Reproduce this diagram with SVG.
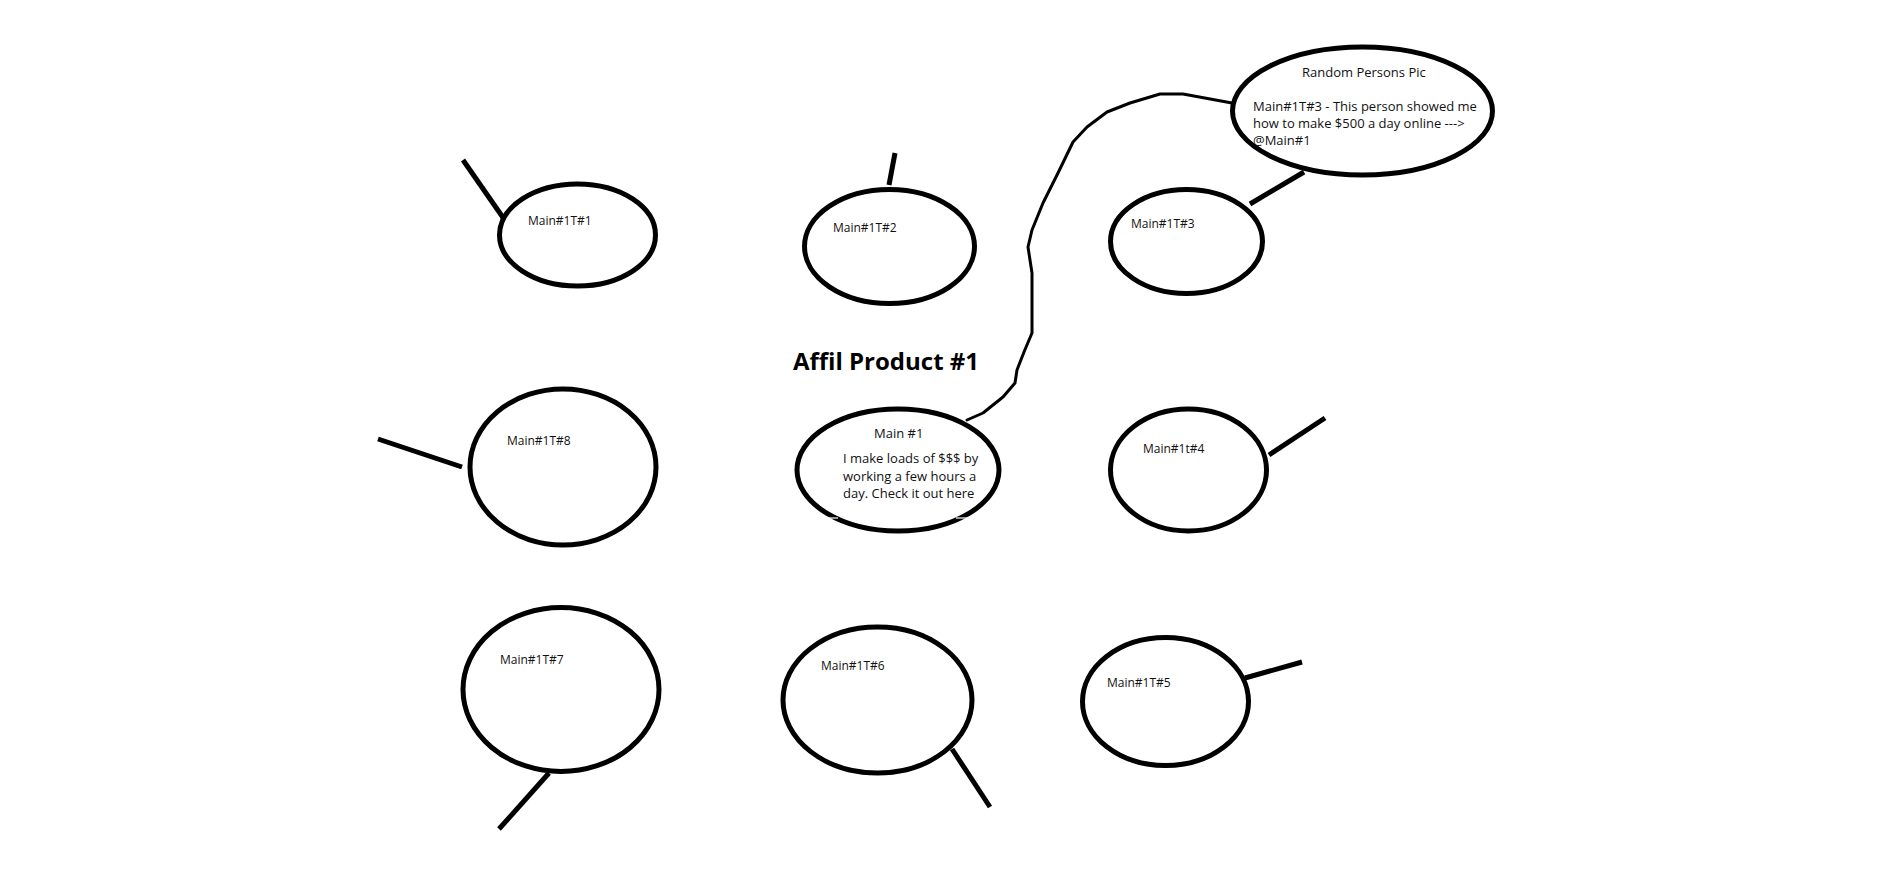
<svg xmlns="http://www.w3.org/2000/svg" width="1886" height="875" viewBox="0 0 1886 875">
<style>
.n{fill:none;stroke:#000;stroke-width:5}
.t{stroke:#000;stroke-width:5;stroke-linecap:butt}
.c{fill:none;stroke:#000;stroke-width:3;stroke-linejoin:round;stroke-linecap:round}
.lb{font-family:"Open Sans","Liberation Sans",sans-serif;font-size:12px;fill:#111}
.tx{font-family:"Open Sans","Liberation Sans",sans-serif;font-size:13px;fill:#111}
.ti{font-family:"Open Sans","Liberation Sans",sans-serif;font-size:24px;font-weight:bold;fill:#000}
</style>
<rect width="1886" height="875" fill="#fff"/>
<g id="connectors">
<path class="c" d="M967,420 L983,413 L1003,397 L1015,383 L1017,370 L1024,352 L1032,333 L1032,300 L1032,273 L1028,247 L1032,230 L1043,203 L1058,173 L1073,142 L1087,127 L1107,112 L1130,103 L1160,94 L1183,94 L1232,103"/>
<line class="t" x1="463" y1="160" x2="504" y2="219"/>
<line class="t" x1="895" y1="153" x2="889" y2="185"/>
<line class="t" x1="1250" y1="204" x2="1304" y2="172"/>
<line class="t" x1="378" y1="439" x2="462" y2="467"/>
<line class="t" x1="1269" y1="455" x2="1325" y2="418"/>
<line class="t" x1="549" y1="773" x2="499" y2="829"/>
<line class="t" x1="952" y1="749" x2="990" y2="807"/>
<line class="t" x1="1245" y1="678" x2="1302" y2="662"/>
</g>
<text class="ti" x="793" y="370">Affil Product #1</text>
<g id="n1"><ellipse class="n" cx="577.5" cy="235" rx="78" ry="51"/><text class="lb" x="528" y="225">Main#1T#1</text></g>
<g id="n2"><ellipse class="n" cx="889.5" cy="246.5" rx="85" ry="57"/><text class="lb" x="833" y="232">Main#1T#2</text></g>
<g id="n3"><ellipse class="n" cx="1186.5" cy="241.5" rx="76" ry="52"/><text class="lb" x="1131" y="228">Main#1T#3</text></g>
<g id="random"><ellipse class="n" cx="1362.5" cy="111" rx="130" ry="64"/>
<text class="tx" x="1302" y="77">Random Persons Pic</text>
<text class="tx" x="1253" y="111">Main#1T#3 - This person showed me</text>
<text class="tx" x="1253" y="128">how to make $500 a day online ---&gt;</text>
<text class="tx" x="1253" y="145">@Main#1</text></g>
<g id="n8"><ellipse class="n" cx="563" cy="467" rx="93" ry="78"/><text class="lb" x="507" y="445">Main#1T#8</text></g>
<g id="main1"><ellipse class="n" cx="898" cy="470" rx="101" ry="61"/>
<line x1="826" y1="518" x2="838" y2="518" stroke="#fff" stroke-width="1.2"/>
<line x1="956" y1="518" x2="970" y2="518" stroke="#fff" stroke-width="1.2"/>
<text class="tx" x="874" y="438">Main #1</text>
<text class="tx" x="843" y="463">I make loads of $$$ by</text>
<text class="tx" x="843" y="481">working a few hours a</text>
<text class="tx" x="843" y="498">day. Check it out here</text></g>
<g id="n4"><ellipse class="n" cx="1188.5" cy="470" rx="78" ry="61"/><text class="lb" x="1143" y="453">Main#1t#4</text></g>
<g id="n7"><ellipse class="n" cx="561" cy="689.5" rx="98" ry="82"/><text class="lb" x="500" y="664">Main#1T#7</text></g>
<g id="n6"><ellipse class="n" cx="877.5" cy="700" rx="94.5" ry="73"/><text class="lb" x="821" y="670">Main#1T#6</text></g>
<g id="n5"><ellipse class="n" cx="1165.5" cy="701.5" rx="83" ry="64"/><text class="lb" x="1107" y="687">Main#1T#5</text></g>
</svg>
